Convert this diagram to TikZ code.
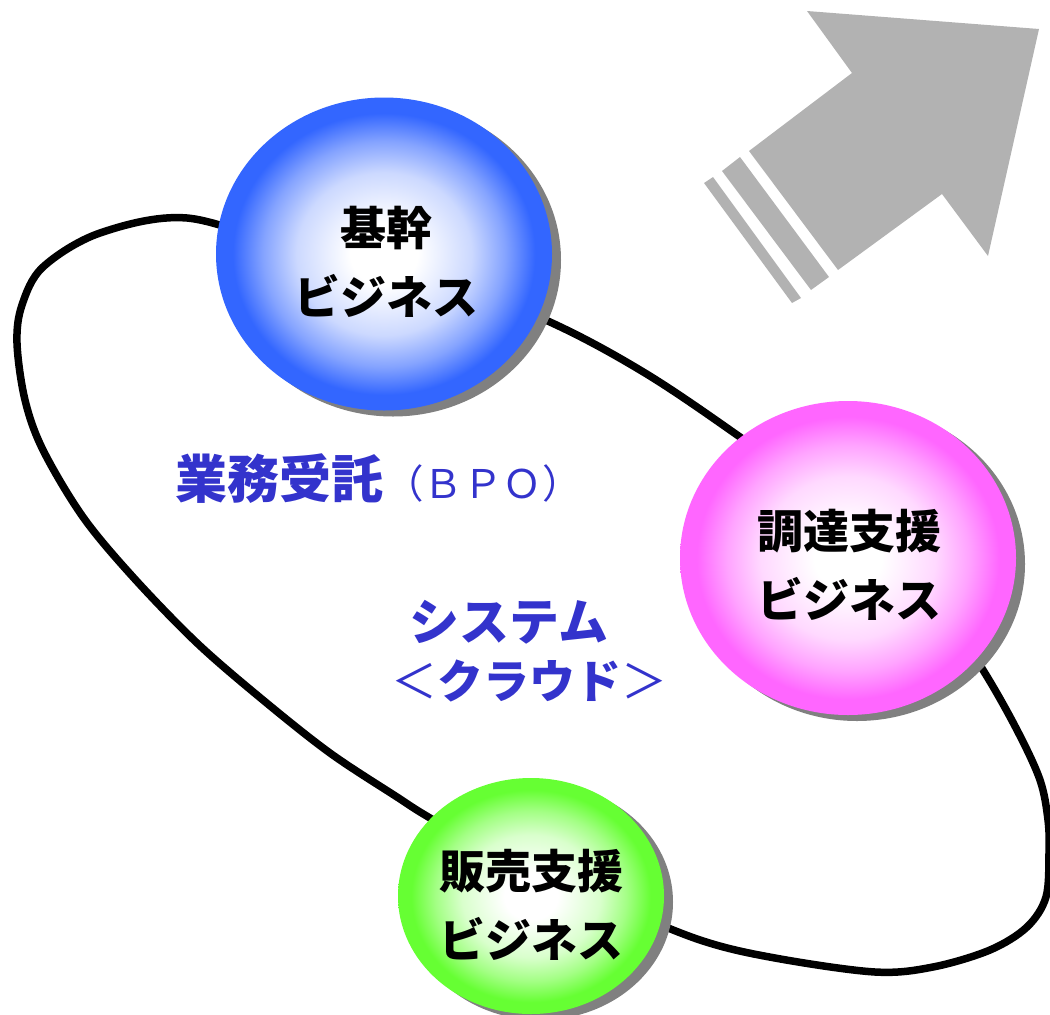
\documentclass[tikz,border=0pt]{standalone}
\usepackage{fontspec}
\newfontfamily\jp{Noto Sans CJK JP}
\usetikzlibrary{shapes.geometric,shadows}
\definecolor{ballblue}{RGB}{51,102,255}
\definecolor{ballpink}{RGB}{255,102,255}
\definecolor{ballgreen}{RGB}{102,255,51}
\definecolor{shadowgray}{RGB}{128,128,128}
\definecolor{arrowgray}{RGB}{178,178,178}
\definecolor{labelblue}{RGB}{51,51,204}
\pgfdeclareradialshading{blueball}{\pgfpoint{0bp}{0bp}}{color(0bp)=(white); color(5bp)=(white); color(13bp)=(ballblue!25); color(18bp)=(ballblue!60); color(22.5bp)=(ballblue); color(50bp)=(ballblue)}
\pgfdeclareradialshading{pinkball}{\pgfpoint{0bp}{0bp}}{color(0bp)=(white); color(5bp)=(white); color(13bp)=(ballpink!25); color(18bp)=(ballpink!60); color(22.5bp)=(ballpink); color(50bp)=(ballpink)}
\pgfdeclareradialshading{greenball}{\pgfpoint{0bp}{0bp}}{color(0bp)=(white); color(5bp)=(white); color(13bp)=(ballgreen!25); color(18bp)=(ballgreen!60); color(22.5bp)=(ballgreen); color(50bp)=(ballgreen)}
\begin{document}
\begin{tikzpicture}[x=1pt,y=-1pt,
  ball/.style={ellipse, inner sep=0pt, draw=none,
    drop shadow={shadow xshift=9pt, shadow yshift=-6pt, fill=shadowgray, opacity=1}},
  balltext/.style={font=\jp\bfseries\fontsize{46}{69}\selectfont, align=center, anchor=base, inner sep=0pt, text=black},
  bluelabel/.style={anchor=base, inner sep=0pt, text=labelblue},
  loopline/.style={line width=7.5pt, line join=round},
  arrowpart/.style={fill=arrowgray, draw=none}]
\useasboundingbox (0,0) rectangle (1050,1015);

% big arrow
\fill[arrowpart] (749,151) -- (852,73) -- (807,11) -- (1039,29) -- (988,256) -- (942,194) -- (838,270) -- cycle;
\fill[arrowpart] (722,171) -- (740,157) -- (829,277) -- (811,290) -- cycle;
\fill[arrowpart] (704,183) -- (713,177) -- (801,298) -- (792,303) -- cycle;

% loop
\draw[loopline] plot[smooth cycle, tension=0.55] coordinates {
  (187,218) (300,250) (420,270) (550,322) (645,373) (740,437) (840,510) (930,590)
  (983,670) (1017,730) (1040,780) (1048,820) (1049,853) (1046,897)
  (1027,927) (990,950) (933,967) (875,972) (775,958) (700,940)
  (600,900) (520,870) (430,818) (397,797) (330,753) (263,700) (197,643)
  (133,577) (83,517) (43,450) (25,400) (17,343) (22,305) (43,267) (100,233)};

% balls
\node[ball, shading=blueball, minimum width=336pt, minimum height=313pt] (core) at (384,254) {};
\node[ball, shading=pinkball, minimum width=336pt, minimum height=314pt] (proc) at (848,558) {};
\node[ball, shading=greenball, minimum width=266pt, minimum height=236pt] (sales) at (531,896) {};

\node[balltext] (coretext) at (386,314) {基幹\\ビジネス};
\node[balltext] (proctext) at (849,617) {調達支援\\ビジネス};
\node[balltext] (salestext) at (531,957) {販売支援\\ビジネス};

% labels
\node[bluelabel, font=\jp\bfseries\fontsize{52}{52}\selectfont] (bpo) at (279,498) {業務受託};
\node[bluelabel, font=\jp\fontsize{39.5}{40}\selectfont] (bpoabbr) at (483,498) {（ＢＰＯ）};
\node[bluelabel, font=\jp\bfseries\fontsize{50}{50}\selectfont] (sys) at (509,640) {システム};
\node[bluelabel, font=\jp\bfseries\fontsize{46}{46}\selectfont] (cloud) at (529,698) {{\mdseries ＜}クラウド{\mdseries ＞}};
\end{tikzpicture}
\end{document}
